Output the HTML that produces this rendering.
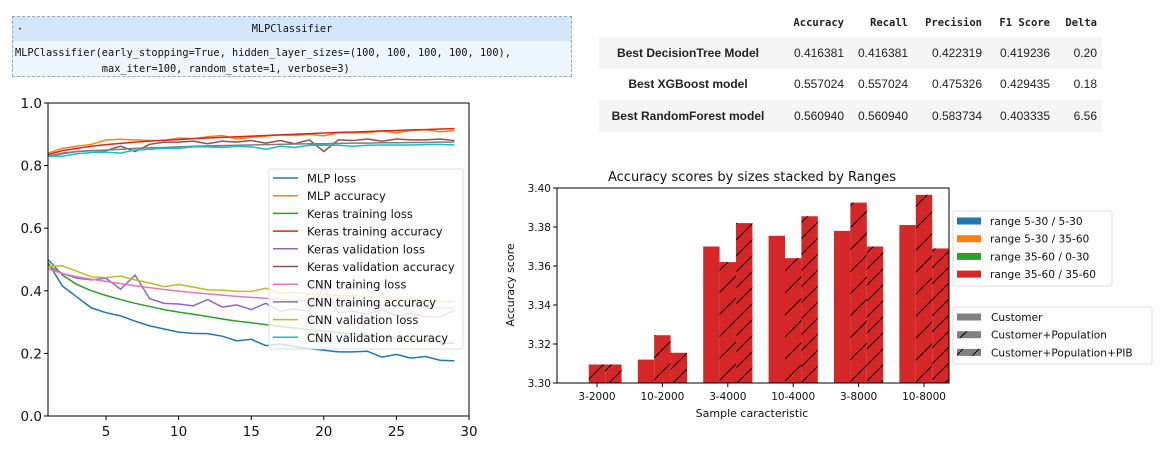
<!DOCTYPE html>
<html><head><meta charset="utf-8">
<style>
body{margin:0;background:#fff;width:1168px;height:453px;overflow:hidden;position:relative;font-family:"Liberation Sans",sans-serif;}
#mlpbox{position:absolute;left:12px;top:16px;width:560px;height:61px;border:1px dashed #9aa;background:#eef6fd;box-sizing:border-box;font-family:"DejaVu Sans Mono","Liberation Mono",monospace;font-size:10.3px;color:#111;}
#mlpbox .hd{height:24px;background:#d3e7f8;text-align:center;line-height:24px;position:relative;}
#mlpbox .hd span.arr{position:absolute;left:5px;top:0;font-size:7px;color:#555;}
#mlpbox .bd{padding:4px 0 0 2px;line-height:16px;white-space:pre;}
table{position:absolute;left:599px;top:8px;border-collapse:collapse;font-size:12px;color:#222;}
td,th{padding:0 5px;height:31.5px;text-align:right;}
th{font-family:"DejaVu Sans Mono","Liberation Mono",monospace;font-size:10.5px;font-weight:bold;height:29px;}
td.lab{text-align:center;font-weight:bold;width:168px;}
tr.g{background:#f5f5f5;}
svg{position:absolute;left:0;top:0;}
</style></head><body>
<div id="mlpbox">
<div class="hd"><span class="arr">▾</span>MLPClassifier</div>
<div class="bd">MLPClassifier(early_stopping=True, hidden_layer_sizes=(100, 100, 100, 100, 100),
              max_iter=100, random_state=1, verbose=3)</div>
</div>
<table>
<tr><th></th><th style="width:62px">Accuracy</th><th style="width:54px">Recall</th><th style="width:64px">Precision</th><th style="width:58px">F1 Score</th><th style="width:37px">Delta</th></tr>
<tr class="g"><td class="lab">Best DecisionTree Model</td><td>0.416381</td><td>0.416381</td><td>0.422319</td><td>0.419236</td><td>0.20</td></tr>
<tr><td class="lab">Best XGBoost model</td><td>0.557024</td><td>0.557024</td><td>0.475326</td><td>0.429435</td><td>0.18</td></tr>
<tr class="g"><td class="lab">Best RandomForest model</td><td>0.560940</td><td>0.560940</td><td>0.583734</td><td>0.403335</td><td>6.56</td></tr>
</table>
<svg id="svg" width="1168" height="453" xmlns="http://www.w3.org/2000/svg" font-family="DejaVu Sans, Liberation Sans, sans-serif">
<defs>
<pattern id="h1" patternUnits="userSpaceOnUse" width="22" height="22"><path d="M0,22 L22,0" stroke="#000" stroke-width="1"/></pattern>
<pattern id="h2" patternUnits="userSpaceOnUse" width="16" height="16"><path d="M0,16 L16,0" stroke="#000" stroke-width="1"/></pattern>
</defs>
</svg>
<script>
const epochs=[1,2,3,4,5,6,7,8,9,10,11,12,13,14,15,16,17,18,19,20,21,22,23,24,25,26,27,28,29];
const mlpLoss=[0.49,0.415,0.38,0.345,0.33,0.32,0.303,0.288,0.278,0.268,0.264,0.263,0.255,0.24,0.245,0.225,0.23,0.222,0.215,0.21,0.205,0.205,0.207,0.188,0.197,0.185,0.19,0.178,0.176];
const mlpAcc=[0.84,0.855,0.862,0.868,0.882,0.884,0.882,0.88,0.88,0.888,0.886,0.892,0.896,0.886,0.89,0.894,0.898,0.896,0.9,0.895,0.905,0.905,0.905,0.91,0.905,0.912,0.915,0.908,0.912];
const kerasTrainLoss=[0.50,0.45,0.42,0.40,0.385,0.372,0.36,0.35,0.34,0.332,0.325,0.318,0.31,0.303,0.298,0.292,0.286,0.281,0.276,0.271,0.266,0.262,0.258,0.253,0.249,0.245,0.241,0.236,0.232];
const kerasTrainAcc=[0.835,0.848,0.855,0.862,0.867,0.871,0.875,0.878,0.881,0.883,0.886,0.888,0.89,0.892,0.894,0.896,0.898,0.9,0.902,0.904,0.906,0.907,0.909,0.911,0.912,0.914,0.915,0.917,0.918];
const kerasValLoss=[0.48,0.455,0.44,0.435,0.44,0.405,0.45,0.375,0.36,0.358,0.352,0.372,0.348,0.355,0.34,0.36,0.335,0.342,0.335,0.41,0.33,0.335,0.325,0.34,0.32,0.328,0.318,0.315,0.338];
const kerasValAcc=[0.83,0.84,0.845,0.848,0.848,0.862,0.845,0.868,0.875,0.875,0.878,0.87,0.878,0.875,0.88,0.872,0.88,0.87,0.882,0.845,0.882,0.88,0.885,0.878,0.885,0.882,0.882,0.885,0.88];
const cnnTrainLoss=[0.47,0.455,0.445,0.437,0.43,0.423,0.416,0.41,0.404,0.399,0.394,0.39,0.386,0.382,0.379,0.376,0.373,0.37,0.367,0.364,0.362,0.36,0.357,0.355,0.352,0.35,0.348,0.346,0.345];
const cnnTrainAcc=[0.83,0.838,0.845,0.848,0.85,0.852,0.855,0.857,0.858,0.86,0.862,0.863,0.864,0.865,0.866,0.867,0.868,0.869,0.87,0.87,0.871,0.872,0.872,0.873,0.873,0.874,0.874,0.875,0.875];
const cnnValLoss=[0.478,0.48,0.462,0.445,0.442,0.447,0.435,0.425,0.413,0.42,0.412,0.403,0.402,0.398,0.398,0.408,0.392,0.395,0.39,0.388,0.385,0.385,0.38,0.378,0.372,0.375,0.37,0.366,0.366];
const cnnValAcc=[0.83,0.83,0.838,0.842,0.843,0.84,0.85,0.852,0.856,0.855,0.86,0.86,0.858,0.862,0.86,0.852,0.862,0.858,0.865,0.865,0.865,0.862,0.865,0.866,0.866,0.866,0.867,0.868,0.866];
const lineNames=["MLP loss","MLP accuracy","Keras training loss","Keras training accuracy","Keras validation loss","Keras validation accuracy","CNN training loss","CNN training accuracy","CNN validation loss","CNN validation accuracy"];
const lineColors=["#1f77b4","#ff7f0e","#2ca02c","#d62728","#9467bd","#8c564b","#e377c2","#7f7f7f","#bcbd22","#17becf"];
const leftXTicks=[5,10,15,20,25,30];
const leftYTicks=[0.0,0.2,0.4,0.6,0.8,1.0];

const categories=["3-2000","10-2000","3-4000","10-4000","3-8000","10-8000"];
const customer=[3.300,3.312,3.370,3.3755,3.378,3.381];
const customerPop=[3.3095,3.3245,3.362,3.364,3.3925,3.3965];
const customerPopPib=[3.3095,3.3155,3.382,3.3855,3.370,3.369];
const rightYTicks=[3.30,3.32,3.34,3.36,3.38,3.40];
const rangeLabels=["range 5-30 / 5-30","range 5-30 / 35-60","range 35-60 / 0-30","range 35-60 / 35-60"];
const featureLabels=["Customer","Customer+Population","Customer+Population+PIB"];

const svg=document.getElementById('svg');
const NS="http://www.w3.org/2000/svg";
function mk(t,a,p){const e=document.createElementNS(NS,t);for(const k in a)e.setAttribute(k,a[k]);(p||svg).appendChild(e);return e;}

// left chart
const L={x0:48,x1:469,y0:416,y1:103};
const lx=v=>L.x0+(v-1)/(30-1)*(L.x1-L.x0);
const ly=v=>L.y0-(v-0)/(1-0)*(L.y0-L.y1);
const lg=mk('g',{});


const allSeries=[mlpLoss,mlpAcc,kerasTrainLoss,kerasTrainAcc,kerasValLoss,kerasValAcc,cnnTrainLoss,cnnTrainAcc,cnnValLoss,cnnValAcc];
allSeries.forEach((s,i)=>{
  const p=mk('polyline',{points:s.map((v,j)=>lx(epochs[j])+','+ly(v)).join(' '),fill:'none',stroke:lineColors[i],'stroke-width':1.5},lg);
  
  
});
mk('rect',{x:L.x0,y:L.y1,width:L.x1-L.x0,height:L.y0-L.y1,fill:'none',stroke:'#000','stroke-width':1},lg);
leftXTicks.forEach(t=>{
  mk('line',{x1:lx(t),x2:lx(t),y1:L.y0,y2:L.y0+4,stroke:'#000'},lg);
  const e=mk('text',{x:lx(t),y:L.y0+20,'text-anchor':'middle','font-size':13.5,fill:'#111'},lg);e.textContent=t;
  
  
});
leftYTicks.forEach(t=>{
  mk('line',{x1:L.x0-4,x2:L.x0,y1:ly(t),y2:ly(t),stroke:'#000'},lg);
  const e=mk('text',{x:L.x0-6,y:ly(t)+5,'text-anchor':'end','font-size':13.5,fill:'#111'},lg);e.textContent=t.toFixed(1);
  
  
});
const leg=mk('g',{},lg);


mk('rect',{x:269,y:169,width:194,height:180,rx:2,fill:'rgba(255,255,255,0.8)',stroke:'#ddd'},leg);
lineNames.forEach((n,i)=>{
  const y=178+i*17.7;
  mk('line',{x1:273,x2:298,y1:y,y2:y,stroke:lineColors[i],'stroke-width':1.5},leg);
  const e=mk('text',{x:307,y:y+4.5,'font-size':11.5,fill:'#111'},leg);e.textContent=n;
  
  
});

// right chart
const R={x0:557,x1:949,y0:383,y1:188};
const ry=v=>R.y0-(v-3.30)/(3.40-3.30)*(R.y0-R.y1);
const step=65.4,bw=16.4;
const cx=i=>597+i*step;
const rg=mk('g',{});


const t=mk('text',{x:752,y:181,'text-anchor':'middle','font-size':13,fill:'#111'},rg);t.textContent="Accuracy scores by sizes stacked by Ranges";


const groups=[customer,customerPop,customerPopPib];
const fills=[null,'url(#h1)','url(#h2)'];
const clip=mk('clipPath',{id:'rc'},svg);mk('rect',{x:R.x0,y:R.y1,width:R.x1-R.x0,height:R.y0-R.y1},clip);
const bars=mk('g',{'clip-path':'url(#rc)'},rg);
categories.forEach((c,i)=>{
  groups.forEach((s,k)=>{
    const x=cx(i)+(k-1)*bw-bw/2, y=ry(s[i]), h=R.y0-y;
    const b=mk('rect',{x:x,y:y,width:bw,height:Math.max(h,0),fill:'#d62728'},bars);
    
    
    if(fills[k])mk('rect',{x:x,y:y,width:bw,height:Math.max(h,0),fill:fills[k]},bars);
  });
  mk('line',{x1:cx(i),x2:cx(i),y1:R.y0,y2:R.y0+4,stroke:'#000'},rg);
  const e=mk('text',{x:cx(i),y:R.y0+17,'text-anchor':'middle','font-size':10.5,fill:'#111'},rg);e.textContent=c;
  
  
});
mk('rect',{x:R.x0,y:R.y1,width:R.x1-R.x0,height:R.y0-R.y1,fill:'none',stroke:'#000'},rg);
rightYTicks.forEach(v=>{
  mk('line',{x1:R.x0-4,x2:R.x0,y1:ry(v),y2:ry(v),stroke:'#000'},rg);
  const e=mk('text',{x:R.x0-6,y:ry(v)+4,'text-anchor':'end','font-size':10.5,fill:'#111'},rg);e.textContent=v.toFixed(2);
  
  
});
const xl=mk('text',{x:752,y:417,'text-anchor':'middle','font-size':11,fill:'#111'},rg);xl.textContent="Sample caracteristic";


const yl=mk('text',{x:0,y:0,'text-anchor':'middle','font-size':11,fill:'#111',transform:'translate(514,285) rotate(-90)'},rg);yl.textContent="Accuracy score";



const leg1=mk('g',{},rg);


mk('rect',{x:953,y:211,width:159,height:75,rx:2,fill:'#fff',stroke:'#ddd'},leg1);
rangeLabels.forEach((n,i)=>{
  const y=221+i*17.7;
  mk('rect',{x:957,y:y-3.5,width:24,height:7,fill:lineColors[i]},leg1);
  const e=mk('text',{x:990,y:y+4,'font-size':10.6,fill:'#111'},leg1);e.textContent=n;
  
  
});
const leg2=mk('g',{},rg);


mk('rect',{x:953,y:307,width:199,height:57,rx:2,fill:'#fff',stroke:'#ddd'},leg2);
featureLabels.forEach((n,i)=>{
  const y=317+i*17.7;
  mk('rect',{x:957,y:y-3.5,width:24,height:7,fill:'#808080'},leg2);
  if(i>0)mk('rect',{x:957,y:y-3.5,width:24,height:7,fill:fills[i]},leg2);
  const e=mk('text',{x:991,y:y+4,'font-size':10.6,fill:'#111'},leg2);e.textContent=n;
  
  
});
</script>
</body></html>
